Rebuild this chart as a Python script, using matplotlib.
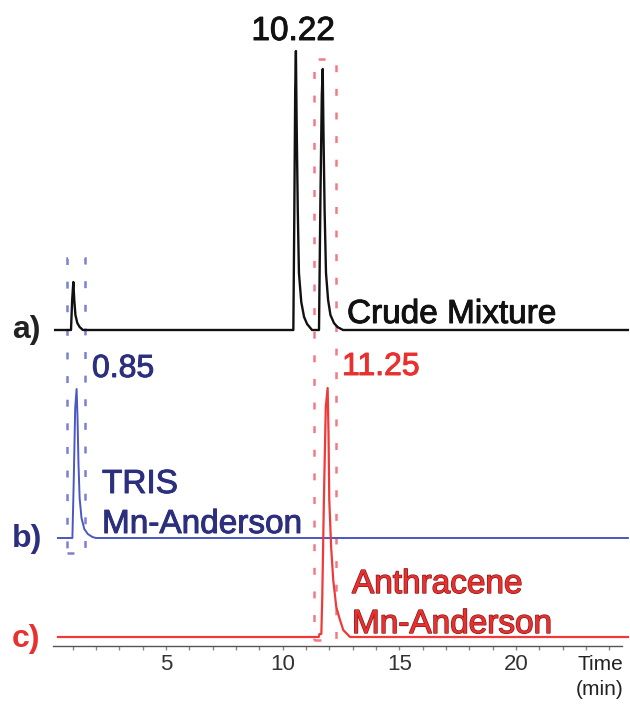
import numpy as np
import matplotlib
matplotlib.use("Agg")
import matplotlib.pyplot as plt
import matplotlib.patheffects as pe
from matplotlib.patches import Rectangle
from matplotlib.ticker import FixedLocator

# ---------------- data ----------------
# a) crude mixture (black)
a_time = [0.25, 0.93, 0.98, 1.03, 1.07, 1.12, 1.20, 1.30, 1.44,
          10.46, 10.50, 10.54, 10.57, 10.60, 10.65, 10.70, 10.80, 10.92, 11.05, 11.26,
          11.56, 11.62, 11.68, 11.72, 11.75, 11.80, 11.86, 11.95, 12.05, 12.20, 12.35, 12.59,
          24.80]
a_signal = [0, 0, 30, 48, 30, 15, 7, 3, 0,
            0, 110, 240, 279, 210, 120, 57, 28, 13, 6, 0,
            0, 130, 235, 261, 200, 120, 57, 30, 15, 7, 3, 0,
            0]

# b) TRIS Mn-Anderson (blue)
b_time = [0.37, 0.99, 1.05, 1.11, 1.17, 1.21, 1.25, 1.30, 1.38, 1.50, 1.65, 1.85, 2.00, 24.80]
b_signal = [0, 0, 60, 130, 149, 120, 75, 40, 20, 9, 4, 1, 0, 0]

# c) Anthracene Mn-Anderson (red)
c_time = [0.37, 11.55, 11.58, 11.66, 11.70, 11.77, 11.85, 11.93, 11.97, 12.00,
          12.08, 12.17, 12.30, 12.46, 12.60, 12.89, 24.80]
c_signal = [0, 0, 3, 3, 40, 137, 230, 249, 200, 137,
            90, 57, 30, 17, 7, 0, 0]

peak_labels = ["10.22", "0.85", "11.25"]
trace_tags = ["a)", "b)", "c)"]
trace_names = ["Crude Mixture", ["TRIS", "Mn-Anderson"], ["Anthracene", "Mn-Anderson"]]
major_ticks = [5, 10, 15, 20]
minor_ticks = list(range(1, 25))
axis_label = ["Time", "(min)"]

# ---------------- layout / style ----------------
plt.rcParams["font.family"] = ["Liberation Sans", "DejaVu Sans"]
plt.rcParams["lines.scale_dashes"] = False

W, H = 630, 704
fig = plt.figure(figsize=(W / 100, H / 100), dpi=100)
ax = fig.add_axes([0, 0, 1, 1])
ax.set_xlim(-2.113, 24.89)
ax.set_ylim(0, H)

off_a, off_b, off_c = 374, 166, 67
black, navy, blue_line, red_line, red_txt = "#111111", "#2b2f7e", "#4a57c4", "#f03a3a", "#e8302f"

ax.plot(a_time, np.array(a_signal) + off_a, color=black, lw=1.7, solid_joinstyle="round")
ax.plot(b_time, np.array(b_signal) + off_b, color=blue_line, lw=1.4, solid_joinstyle="round")
ax.plot(c_time, np.array(c_signal) + off_c, color=red_line, lw=1.6, solid_joinstyle="round")

dash = (0, (5, 12))
ax.add_patch(Rectangle((0.76, 151), 0.77, 295, fill=False, ec="#7b7fd6",
                       lw=1.8, ls=dash))
ax.add_patch(Rectangle((11.36, 64), 0.93, 581, fill=False, ec="#f27a86",
                       lw=1.8, ls=dash))

# x axis
for s in ["left", "right", "top"]:
    ax.spines[s].set_visible(False)
ax.spines["bottom"].set_position(("data", 58))
ax.spines["bottom"].set_bounds(0.16, 24.55)
ax.spines["bottom"].set_color("#555555")
ax.spines["bottom"].set_linewidth(1.0)
ax.set_yticks([])
ax.xaxis.set_major_locator(FixedLocator(major_ticks))
ax.xaxis.set_minor_locator(FixedLocator(minor_ticks))
ax.tick_params(axis="x", which="both", direction="out", length=3, width=1,
               color="#888888", labelsize=16, labelcolor="#333333", pad=3)
ax.set_xticklabels([str(t) for t in major_ticks])


def heavy(c, w=0.7):
    return [pe.withStroke(linewidth=w, foreground=c)]


def ftxt(x, y, s, **kw):
    kw.setdefault("va", "baseline")
    return fig.text(x / W, 1 - y / H, s, **kw)


# peak labels
ftxt(293, 40, peak_labels[0], ha="center", size=24, color=black, path_effects=heavy(black))
ftxt(92, 377, peak_labels[1], ha="left", size=23, color=navy, path_effects=heavy(navy))
ftxt(342, 375, peak_labels[2], ha="left", size=23, color=red_txt, path_effects=heavy(red_txt))

# trace tags
ftxt(12, 338, trace_tags[0], size=23, weight="bold", color="#222222")
ftxt(12, 547, trace_tags[1], size=23, weight="bold", color=navy)
ftxt(12, 647, trace_tags[2], size=23, weight="bold", color=red_txt)

# trace names
ftxt(347, 323, trace_names[0], size=24, color=black, path_effects=heavy(black))
ftxt(102, 493, trace_names[1][0], size=24, color=navy, path_effects=heavy(navy))
ftxt(102, 533, trace_names[1][1], size=24, color=navy, path_effects=heavy(navy))
outline = heavy("#8a1a1a", 1.0)
ftxt(352, 593, trace_names[2][0], size=24, color=red_txt, path_effects=outline)
ftxt(352, 633, trace_names[2][1], size=24, color=red_txt, path_effects=outline)

# axis label
ftxt(600, 670, axis_label[0], ha="center", size=15, color="#222222")
ftxt(600, 695, axis_label[1], ha="center", size=15, color="#222222")

fig.savefig("out.png", dpi=100, facecolor="white")
